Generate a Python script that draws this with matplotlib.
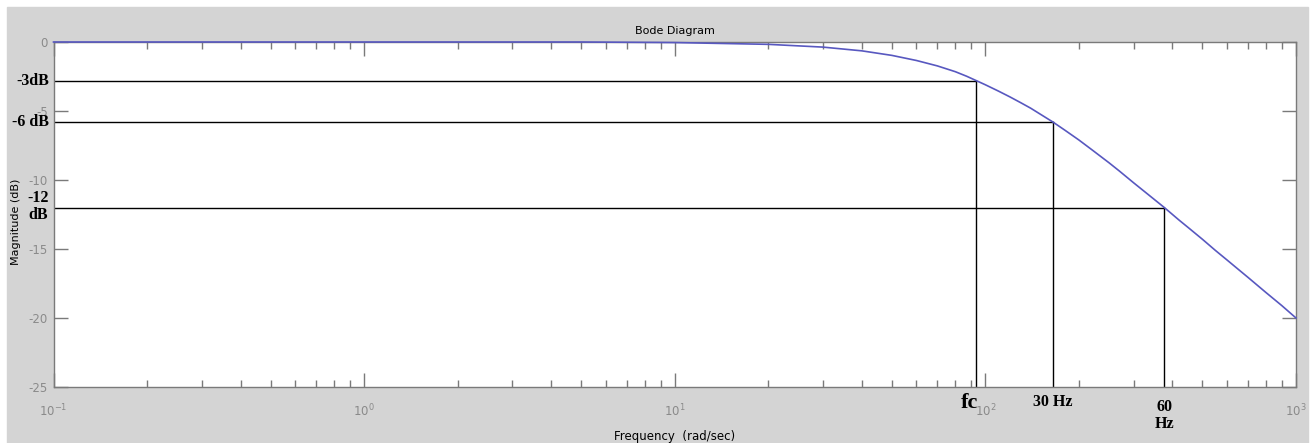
import numpy as np
import matplotlib.pyplot as plt
from matplotlib.patches import Rectangle

# magnitude curve (rad/sec, dB)
freq = [0.1, 1, 5, 10, 20, 30, 40, 50, 60, 70, 80, 87, 93.5, 100, 110, 120, 130,
        140, 150, 165, 180, 200, 220, 250, 270, 300, 330, 377, 420, 450, 500,
        550, 600, 650, 700, 800, 900, 1000]
mag_db = [0, 0, 0, -0.04, -0.17, -0.37, -0.64, -0.97, -1.34, -1.73, -2.15, -2.48,
          -2.8, -3.1, -3.55, -3.98, -4.4, -4.8, -5.22, -5.8, -6.38, -7.1, -7.8,
          -8.75, -9.35, -10.2, -10.95, -12.0, -12.9, -13.45, -14.3, -15.1, -15.8,
          -16.45, -17.05, -18.15, -19.1, -20.0]

# marker lines
mark_freq = [93.5, 165, 377]
mark_db = [-2.8, -5.8, -12.0]
db_labels = ['-3dB', '-6 dB', '-12\ndB']
freq_labels = ['fc', '30 Hz', '60\nHz']

y_ticks = [0, -5, -10, -15, -20, -25]
x_ticks = [0.1, 1, 10, 100, 1000]
x_ticklabels = [r'$10^{-1}$', r'$10^{0}$', r'$10^{1}$', r'$10^{2}$', r'$10^{3}$']

W, H = 1312, 443
fig = plt.figure(figsize=(W / 100, H / 100), dpi=100, facecolor='white')
# grey matlab window
fig.patches.append(Rectangle((7 / W, 0), (1308 - 7) / W, (H - 7) / H,
                             transform=fig.transFigure, color='#d4d4d4', zorder=-10))

ax = fig.add_axes([53.5 / W, (H - 387) / H, (1296 - 53.5) / W, (387 - 42) / H])
ax.set_zorder(1)
ax.set_facecolor('white')
ax.set_xscale('log')
ax.set_xlim(0.1, 1000)

ax.plot(freq, mag_db, color='#5858c0', lw=1.2, zorder=3, clip_on=False)

for f, d in zip(mark_freq, mark_db):
    ax.plot([0.1, f], [d, d], color='black', lw=1.0, zorder=2)
    ax.plot([f, f], [-25, d], color='black', lw=1.0, zorder=2)

ax.set_ylim(-25, 0)
ax.set_yticks(y_ticks)
ax.set_yticklabels([str(t) for t in y_ticks])
ax.set_xticks(x_ticks)
ax.set_xticklabels(x_ticklabels)
ax.tick_params(which='both', direction='in', top=True, right=True,
               colors='#7a7a7a', labelcolor='#8a8a8a', labelsize=8.5)
ax.tick_params(which='major', length=10, width=1)
ax.tick_params(which='minor', length=5, width=1)
ax.tick_params(axis='x', pad=11)
ax.tick_params(axis='y', pad=4)
for s in ax.spines.values():
    s.set_color('#7a7a7a')
    s.set_linewidth(1)

ax.set_title('Bode Diagram', fontsize=8, pad=6)
ax.set_xlabel('Frequency  (rad/sec)', fontsize=8.5, labelpad=8)
fig.text(16 / W, 1 - 222 / H, 'Magnitude (dB)', rotation=90, fontsize=8,
         ha='center', va='center')

serif = dict(family='Liberation Serif', weight='bold', color='black')
for d, lab in zip(mark_db, db_labels):
    ax.annotate(lab, xy=(0, d), xycoords=('axes fraction', 'data'),
                xytext=(-3, 1 if '\n' in lab else 0), textcoords='offset points',
                ha='right', va='center', fontsize=11.5, linespacing=1.05,
                multialignment='center', **serif)

fsizes = [16, 11.5, 11.5]
offs = [-11.5, -11, -20.5]
shifts = [-5, 0, 0]
for f, lab, fs, o, sh in zip(mark_freq, freq_labels, fsizes, offs, shifts):
    ax.annotate(lab, xy=(f, 0), xycoords=('data', 'axes fraction'),
                xytext=(sh, o), textcoords='offset points',
                ha='center', va='center', fontsize=fs, linespacing=1.05, **serif)

fig.savefig('out.png', dpi=100, facecolor=fig.get_facecolor())
